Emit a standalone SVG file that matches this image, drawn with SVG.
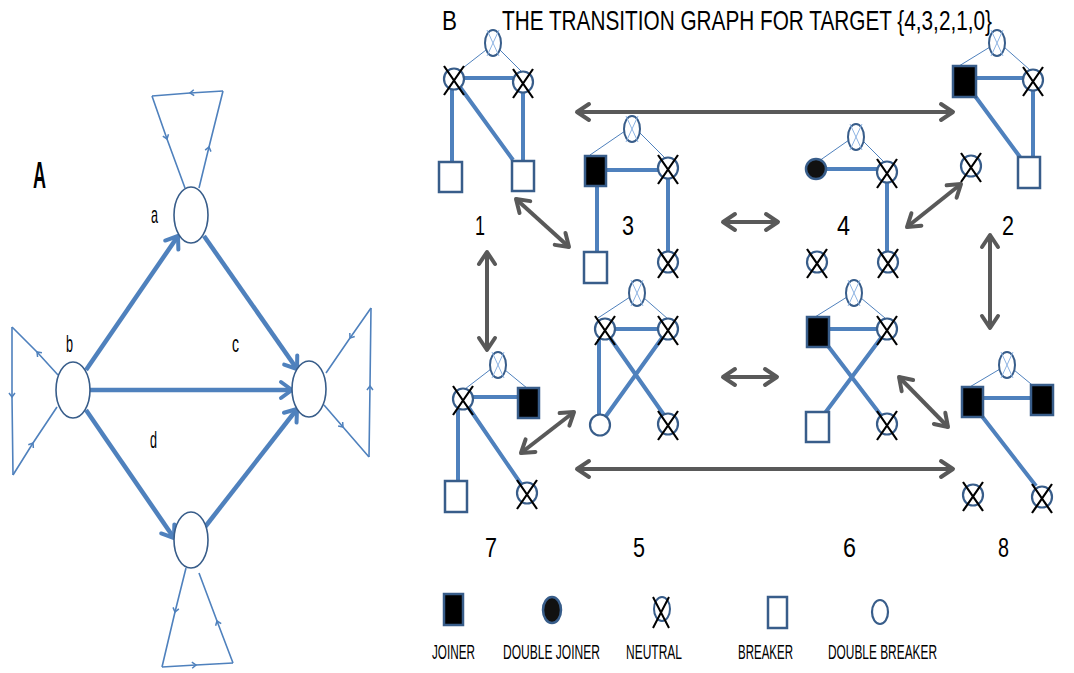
<svg xmlns="http://www.w3.org/2000/svg" xmlns:xlink="http://www.w3.org/1999/xlink" width="1074" height="673" viewBox="0 0 1074 673">
<style>
.t{font-family:"Liberation Sans",Arial,sans-serif;fill:#000}
.ln{stroke:#4f81bd;stroke-width:4;fill:none}
.tn{stroke:#4f81bd;stroke-width:1;fill:none}
.ga{stroke:#595959;stroke-width:4;fill:none;marker-start:url(#gh);marker-end:url(#gh)}
.ea{stroke:#4f81bd;stroke-width:4.5;fill:none;marker-end:url(#bh)}
.lp{stroke:#4f81bd;stroke-width:1.6;fill:none;marker-mid:url(#sh)}
.nd{fill:#fff;stroke:#385d8a;stroke-width:1.6}
.jn{fill:#000;stroke:#385d8a;stroke-width:2.5}
.br{fill:#fff;stroke:#385d8a;stroke-width:2.5}
</style>
<defs>
<marker id="gh" viewBox="0 0 16 20" markerWidth="16" markerHeight="20" refX="14" refY="10" orient="auto-start-reverse" markerUnits="userSpaceOnUse" overflow="visible"><path d="M2,2 L14,10 L2,18" fill="none" stroke="#595959" stroke-width="4" stroke-linejoin="round" stroke-linecap="round"/></marker>
<marker id="bh" viewBox="0 0 16 20" markerWidth="16" markerHeight="20" refX="14" refY="10" orient="auto" markerUnits="userSpaceOnUse" overflow="visible"><path d="M3,2 L14,10 L3,18" fill="none" stroke="#4f81bd" stroke-width="4" stroke-linejoin="round" stroke-linecap="round"/></marker>
<marker id="sh" viewBox="0 0 8 8" markerWidth="8" markerHeight="8" refX="5" refY="4" orient="auto" markerUnits="userSpaceOnUse" overflow="visible"><path d="M1,1 L5,4 L1,7" fill="none" stroke="#4f81bd" stroke-width="1.5"/></marker>
<g id="xc"><ellipse rx="10" ry="10.5" fill="#fff" stroke="#385d8a" stroke-width="2.2"/><path d="M-10,-13 L10,16 M10,-13 L-10,16" stroke="#000" stroke-width="2.2"/></g>
<g id="te"><ellipse rx="8" ry="13" fill="#fff" stroke="#385d8a" stroke-width="2"/><path d="M-6,-13 L6,13 M6,-13 L-6,13" stroke="#8eb4e3" stroke-width="1"/></g>
<g id="dbc"><ellipse rx="10" ry="10.5" fill="#fff" stroke="#385d8a" stroke-width="2.2"/></g>
<g id="djc"><ellipse rx="10" ry="10" fill="#111" stroke="#385d8a" stroke-width="2.5"/></g>
</defs>
<rect width="1074" height="673" fill="#fff"/>

<!-- Panel A -->
<text class="t" x="33" y="188" font-size="36" font-weight="bold" textLength="13" lengthAdjust="spacingAndGlyphs">A</text>
<g id="a-connectors">
<path class="ea" d="M86,370 L178,236"/>
<path class="ea" d="M204,236 L297,369"/>
<path class="ea" d="M90,390 L292,390"/>
<path class="ea" d="M86,410 L174,538"/>
<path class="ea" d="M205,527 L297,409"/>
<path class="lp" d="M199,188 L209,147 L223,91"/>
<path class="lp" d="M223,91 L190,93 L152,96"/>
<path class="lp" d="M152,96 L167,139 L185,188"/>
<path class="lp" d="M58,375 L37,352 L12,327"/>
<path class="lp" d="M12,327 L12,397 L13,475"/>
<path class="lp" d="M13,475 L33,443 L57,407"/>
<path class="lp" d="M324,405 L343,427 L369,457"/>
<path class="lp" d="M369,457 L370,386 L371,308"/>
<path class="lp" d="M371,308 L350,338 L326,373"/>
<path class="lp" d="M186,568 L175,612 L162,667"/>
<path class="lp" d="M162,667 L196,665 L233,663"/>
<path class="lp" d="M233,663 L217,621 L199,573"/>
</g>
<g id="node-a"><ellipse class="nd" cx="191" cy="215" rx="17" ry="28"/><text class="t" x="151" y="223" font-size="24" textLength="7" lengthAdjust="spacingAndGlyphs">a</text></g>
<g id="node-b"><ellipse class="nd" cx="73" cy="390" rx="17" ry="28"/><text class="t" x="66" y="352" font-size="24" textLength="7" lengthAdjust="spacingAndGlyphs">b</text></g>
<g id="node-c"><ellipse class="nd" cx="309" cy="389" rx="17" ry="28"/><text class="t" x="232" y="352" font-size="24" textLength="7" lengthAdjust="spacingAndGlyphs">c</text></g>
<g id="node-d"><ellipse class="nd" cx="191" cy="540" rx="17" ry="28"/><text class="t" x="150" y="448" font-size="24" textLength="7" lengthAdjust="spacingAndGlyphs">d</text></g>

<!-- Panel B -->
<text class="t" x="442" y="30" font-size="28" textLength="15" lengthAdjust="spacingAndGlyphs">B</text>
<text class="t" x="502" y="30" font-size="28" textLength="490" lengthAdjust="spacingAndGlyphs">THE TRANSITION GRAPH FOR TARGET {4,3,2,1,0}</text>

<g id="b-connectors">
<path class="ga" d="M577,112 L953,112"/>
<path class="ga" d="M577,469 L953,469"/>
<path class="ga" d="M723,222 L778,222"/>
<path class="ga" d="M723,377 L777,377"/>
<path class="ga" d="M516,199 L569,247"/>
<path class="ga" d="M907,227 L961,184"/>
<path class="ga" d="M487,252 L487,350"/>
<path class="ga" d="M990,235 L990,328"/>
<path class="ga" d="M521,453 L574,412"/>
<path class="ga" d="M899,377 L948,427"/>
</g>

<g id="state-1">
<path class="tn" d="M486,50 L459,71 M500,50 L522,72"/>
<path class="ln" d="M463,78 L513,78 M452,88 L452,162 M460,87 L513,160 M523,92 L523,161"/>
<use xlink:href="#te" href="#te" x="493" y="43"/>
<use xlink:href="#xc" href="#xc" x="454" y="79"/>
<use xlink:href="#xc" href="#xc" x="523" y="82"/>
<rect class="br" x="439" y="162" width="23" height="30"/>
<rect class="br" x="512" y="161" width="22" height="30"/>
<text class="t" x="475" y="235" font-size="28" textLength="10" lengthAdjust="spacingAndGlyphs">1</text>
</g>

<g id="state-3">
<path class="tn" d="M625,131 L590,155 M639,132 L665,158"/>
<path class="ln" d="M606,170 L658,170 M597,186 L597,252 M668,178 L668,252"/>
<use xlink:href="#te" href="#te" x="632" y="129"/>
<rect class="jn" x="585" y="156" width="21" height="30"/>
<use xlink:href="#xc" href="#xc" x="668" y="168"/>
<rect class="br" x="584" y="252" width="23" height="31"/>
<use xlink:href="#xc" href="#xc" x="668" y="262"/>
<text class="t" x="622" y="235" font-size="28" textLength="12" lengthAdjust="spacingAndGlyphs">3</text>
</g>

<g id="state-4">
<path class="tn" d="M849,140 L819,161 M863,141 L884,162"/>
<path class="ln" d="M826,169 L877,169 M887,182 L887,252"/>
<use xlink:href="#te" href="#te" x="856" y="137"/>
<use xlink:href="#djc" href="#djc" x="816" y="169"/>
<use xlink:href="#xc" href="#xc" x="887" y="172"/>
<use xlink:href="#xc" href="#xc" x="817" y="262"/>
<use xlink:href="#xc" href="#xc" x="888" y="262"/>
<text class="t" x="837" y="235" font-size="28" textLength="13" lengthAdjust="spacingAndGlyphs">4</text>
</g>

<g id="state-2">
<path class="tn" d="M990,47 L959,66 M1004,47 L1030,70"/>
<path class="ln" d="M976,78 L1023,78 M1033,90 L1033,157 M975,96 L1020,157"/>
<use xlink:href="#te" href="#te" x="997" y="43"/>
<rect class="jn" x="953" y="66" width="23" height="31"/>
<use xlink:href="#xc" href="#xc" x="1033" y="80"/>
<rect class="br" x="1018" y="157" width="22" height="31"/>
<use xlink:href="#xc" href="#xc" x="971" y="166"/>
<text class="t" x="1002" y="235" font-size="28" textLength="12" lengthAdjust="spacingAndGlyphs">2</text>
</g>

<g id="state-7">
<path class="tn" d="M491,369 L465,389 M505,370 L533,393"/>
<path class="ln" d="M473,397 L518,397 M458,409 L458,481 M469,408 L521,484"/>
<use xlink:href="#te" href="#te" x="498" y="365"/>
<use xlink:href="#xc" href="#xc" x="463" y="399"/>
<rect class="jn" x="518" y="388" width="21" height="30"/>
<rect class="br" x="445" y="481" width="22" height="31"/>
<use xlink:href="#xc" href="#xc" x="527" y="493"/>
<text class="t" x="485" y="557" font-size="28" textLength="12" lengthAdjust="spacingAndGlyphs">7</text>
</g>

<g id="state-5">
<path class="tn" d="M630,297 L598,318 M644,298 L668,319"/>
<path class="ln" d="M615,329 L658,329 M599,339 L599,415 M610,338 L664,415 M662,338 L606,416"/>
<use xlink:href="#te" href="#te" x="637" y="293"/>
<use xlink:href="#xc" href="#xc" x="605" y="329"/>
<use xlink:href="#xc" href="#xc" x="668" y="329"/>
<use xlink:href="#dbc" href="#dbc" x="600" y="425"/>
<use xlink:href="#xc" href="#xc" x="668" y="424"/>
<text class="t" x="633" y="557" font-size="28" textLength="12" lengthAdjust="spacingAndGlyphs">5</text>
</g>

<g id="state-6">
<path class="tn" d="M847,297 L815,317 M861,298 L885,318"/>
<path class="ln" d="M829,329 L877,329 M828,346 L883,418 M881,338 L825,413"/>
<use xlink:href="#te" href="#te" x="854" y="293"/>
<rect class="jn" x="807" y="317" width="22" height="30"/>
<use xlink:href="#xc" href="#xc" x="887" y="329"/>
<rect class="br" x="806" y="412" width="23" height="30"/>
<use xlink:href="#xc" href="#xc" x="887" y="424"/>
<text class="t" x="843" y="557" font-size="28" textLength="13" lengthAdjust="spacingAndGlyphs">6</text>
</g>

<g id="state-8">
<path class="tn" d="M1000,369 L968,388 M1014,370 L1042,393"/>
<path class="ln" d="M983,398 L1031,398 M981,415 L1036,486"/>
<use xlink:href="#te" href="#te" x="1007" y="365"/>
<rect class="jn" x="962" y="387" width="21" height="30"/>
<rect class="jn" x="1031" y="385" width="22" height="30"/>
<use xlink:href="#xc" href="#xc" x="1042" y="497"/>
<use xlink:href="#xc" href="#xc" x="973" y="495"/>
<text class="t" x="998" y="557" font-size="28" textLength="11" lengthAdjust="spacingAndGlyphs">8</text>
</g>

<g id="legend">
<rect class="jn" x="444" y="594" width="19" height="31"/>
<ellipse cx="552" cy="610" rx="9" ry="13" fill="#111" stroke="#385d8a" stroke-width="2.5"/>
<ellipse cx="662" cy="609" rx="8" ry="12" fill="#fff" stroke="#385d8a" stroke-width="2"/>
<path d="M653,597 L669,628 M669,597 L653,628" stroke="#000" stroke-width="2"/>
<rect class="br" x="768" y="597" width="19" height="31"/>
<ellipse cx="880" cy="612" rx="8" ry="12" fill="#fff" stroke="#385d8a" stroke-width="2.2"/>
<text class="t" x="432" y="659" font-size="21" textLength="43" lengthAdjust="spacingAndGlyphs">JOINER</text>
<text class="t" x="503" y="659" font-size="21" textLength="97" lengthAdjust="spacingAndGlyphs">DOUBLE JOINER</text>
<text class="t" x="626" y="659" font-size="21" textLength="56" lengthAdjust="spacingAndGlyphs">NEUTRAL</text>
<text class="t" x="738" y="659" font-size="21" textLength="55" lengthAdjust="spacingAndGlyphs">BREAKER</text>
<text class="t" x="828" y="659" font-size="21" textLength="109" lengthAdjust="spacingAndGlyphs">DOUBLE BREAKER</text>
</g>
</svg>
